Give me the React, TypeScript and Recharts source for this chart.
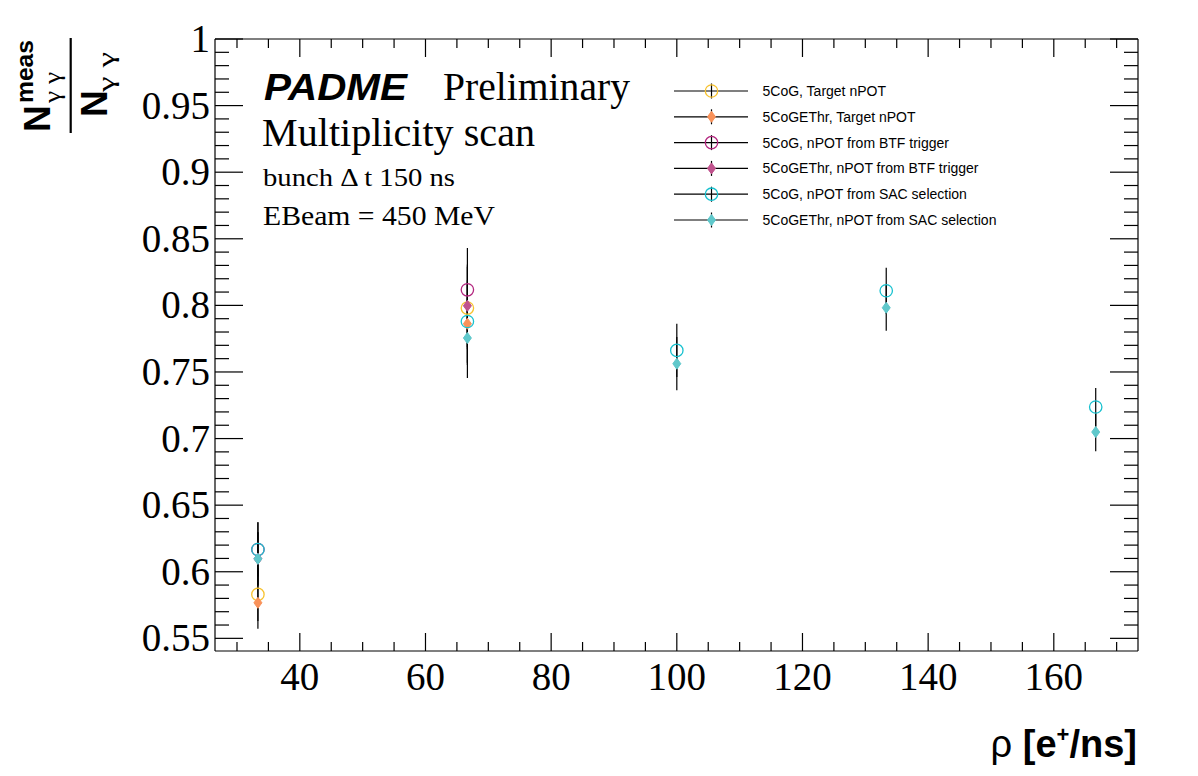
import React from 'react';
import { ScatterChart, Scatter, XAxis, YAxis, ErrorBar } from 'recharts';

// ---------- data ----------
const RHO = [33.33, 66.67, 100, 133.33, 166.67];

const TARGET_COG = [0.583, 0.798];
const TARGET_COG_ERR = [0.02, 0.031];
const TARGET_ETHR = [0.5767, 0.7862];
const TARGET_ETHR_ERR = [0.0195, 0.031];

const BTF_COG = [0.6167, 0.8117];
const BTF_COG_ERR = [0.0204, 0.0313];
const BTF_ETHR = [0.6097, 0.7997];
const BTF_ETHR_ERR = [0.02, 0.031];

const SAC_COG = [0.6167, 0.7879, 0.7662, 0.811, 0.7237];
const SAC_COG_ERR = [0.0204, 0.031, 0.02, 0.0172, 0.0143];
const SAC_ETHR = [0.6097, 0.7755, 0.7562, 0.7982, 0.7049];
const SAC_ETHR_ERR = [0.02, 0.03, 0.02, 0.0172, 0.0145];

const X_MAJOR = [40, 60, 80, 100, 120, 140, 160];
const X_LABELS = ['40', '60', '80', '100', '120', '140', '160'];
const X_MINOR = [30, 35, 45, 50, 55, 65, 70, 75, 85, 90, 95, 105, 110, 115, 125, 130, 135, 145, 150, 155, 165, 170];

const Y_MAJOR = [0.55, 0.6, 0.65, 0.7, 0.75, 0.8, 0.85, 0.9, 0.95, 1];
const Y_LABELS = ['0.55', '0.6', '0.65', '0.7', '0.75', '0.8', '0.85', '0.9', '0.95', '1'];
const Y_MINOR: number[] = [];
for (let i = 56; i < 100; i++) if (i % 5 !== 0) Y_MINOR.push(i / 100);

const LEGEND_NAMES = [
  '5CoG, Target nPOT',
  '5CoGEThr, Target nPOT',
  '5CoG, nPOT from BTF trigger',
  '5CoGEThr, nPOT from BTF trigger',
  '5CoG, nPOT from SAC selection',
  '5CoGEThr, nPOT from SAC selection',
];

// ---------- build ----------
const mk = (vals: number[], errs: number[]) => vals.map((v, i) => ({ x: RHO[i], y: v, err: errs[i] }));

const SERIES = [
  { name: LEGEND_NAMES[0], data: mk(TARGET_COG, TARGET_COG_ERR), color: '#F7C22E', filled: false },
  { name: LEGEND_NAMES[1], data: mk(TARGET_ETHR, TARGET_ETHR_ERR), color: '#F9925A', filled: true },
  { name: LEGEND_NAMES[2], data: mk(BTF_COG, BTF_COG_ERR), color: '#B3267F', filled: false },
  { name: LEGEND_NAMES[3], data: mk(BTF_ETHR, BTF_ETHR_ERR), color: '#C0528D', filled: true },
  { name: LEGEND_NAMES[4], data: mk(SAC_COG, SAC_COG_ERR), color: '#17C1CF', filled: false },
  { name: LEGEND_NAMES[5], data: mk(SAC_ETHR, SAC_ETHR_ERR), color: '#5FC8CB', filled: true },
];

const X_TICKS = [...X_MAJOR, ...X_MINOR].sort((a, b) => a - b);
const Y_TICKS = [...Y_MAJOR, ...Y_MINOR].sort((a, b) => a - b);

const SERIF = '"Liberation Serif", "Times New Roman", serif';
const SANS = '"Liberation Sans", Arial, sans-serif';

const isXMajor = (v: number) => X_MAJOR.indexOf(v) >= 0;
const yMajorIndex = (v: number) => Y_MAJOR.findIndex((m) => Math.abs(m - v) < 1e-6);

const Marker = ({ cx, cy, color, filled }: any) => {
  if (cx == null || cy == null) return <g />;
  if (filled) {
    return (
      <polygon
        points={`${cx},${cy - 5.5} ${cx + 4},${cy} ${cx},${cy + 5.5} ${cx - 4},${cy}`}
        fill={color}
        stroke={color}
        strokeWidth={1}
      />
    );
  }
  return <circle cx={cx} cy={cy} r={6.2} fill="none" stroke={color} strokeWidth={1.3} />;
};

const xTick = (side: 'bottom' | 'top') => (p: any) => {
  const { x, y, payload } = p;
  const v = payload.value;
  const major = isXMajor(v);
  const len = major ? 18 : 9;
  const dir = side === 'bottom' ? -1 : 1;
  const idx = X_MAJOR.indexOf(v);
  return (
    <g>
      <line x1={x} y1={y} x2={x} y2={y + dir * len} stroke="#000" strokeWidth={1.2} />
      {side === 'bottom' && major ? (
        <text x={x} y={y + 39} textAnchor="middle" fontFamily={SERIF} fontSize={39} fill="#000">
          {X_LABELS[idx]}
        </text>
      ) : null}
    </g>
  );
};

const yTick = (side: 'left' | 'right') => (p: any) => {
  const { x, y, payload } = p;
  const v = payload.value;
  const idx = yMajorIndex(v);
  const major = idx >= 0;
  const len = major ? 28 : 14;
  const dir = side === 'left' ? 1 : -1;
  return (
    <g>
      <line x1={x} y1={y} x2={x + dir * len} y2={y} stroke="#000" strokeWidth={1.2} />
      {side === 'left' && major ? (
        <text x={x - 5} y={y + 13} textAnchor="end" fontFamily={SERIF} fontSize={39} fill="#000">
          {Y_LABELS[idx]}
        </text>
      ) : null}
    </g>
  );
};

const X_DOMAIN: [number, number] = [26.5, 173.4];
const Y_DOMAIN: [number, number] = [0.5405, 1.0];

const LegendBox = () => (
  <g>
    {SERIES.map((s, i) => {
      const cy = 91 + i * 25.8;
      return (
        <g key={s.name}>
          <line x1={674} y1={cy} x2={748} y2={cy} stroke="#000" strokeWidth={1.2} />
          <line x1={711.5} y1={cy - 7.5} x2={711.5} y2={cy + 7.5} stroke="#000" strokeWidth={1.2} />
          <Marker cx={711.5} cy={cy} color={s.color} filled={s.filled} />
          <text x={762.5} y={cy + 5} fontFamily={SANS} fontSize={14} fill="#000">
            {s.name}
          </text>
        </g>
      );
    })}
  </g>
);

const axisLine = { stroke: '#000', strokeWidth: 1.2 };

export default function App() {
  return (
    <div style={{ position: 'absolute', left: 0, top: 0, width: 1198, height: 776, background: '#fff' }}>
      <ScatterChart width={1198} height={776} margin={{ top: 38, right: 59, bottom: 124, left: 214 }}>
        <XAxis
          xAxisId="b"
          type="number"
          dataKey="x"
          domain={X_DOMAIN}
          allowDataOverflow
          ticks={X_TICKS}
          interval={0}
          height={1}
          tickSize={0}
          tickMargin={0}
          tickLine={false}
          axisLine={axisLine}
          tick={xTick('bottom')}
        />
        <XAxis
          xAxisId="t"
          orientation="top"
          type="number"
          dataKey="x"
          domain={X_DOMAIN}
          allowDataOverflow
          ticks={X_TICKS}
          interval={0}
          height={1}
          tickSize={0}
          tickMargin={0}
          tickLine={false}
          axisLine={axisLine}
          tick={xTick('top')}
        />
        <YAxis
          yAxisId="l"
          type="number"
          dataKey="y"
          domain={Y_DOMAIN}
          allowDataOverflow
          ticks={Y_TICKS}
          interval={0}
          width={1}
          tickSize={0}
          tickMargin={0}
          tickLine={false}
          axisLine={axisLine}
          tick={yTick('left')}
        />
        <YAxis
          yAxisId="r"
          orientation="right"
          type="number"
          dataKey="y"
          domain={Y_DOMAIN}
          allowDataOverflow
          ticks={Y_TICKS}
          interval={0}
          width={1}
          tickSize={0}
          tickMargin={0}
          tickLine={false}
          axisLine={axisLine}
          tick={yTick('right')}
        />
        {SERIES.map((s) => (
          <Scatter
            key={s.name}
            name={s.name}
            data={s.data}
            xAxisId="b"
            yAxisId="l"
            isAnimationActive={false}
            shape={(p: any) => <Marker cx={p.cx} cy={p.cy} color={s.color} filled={s.filled} />}
          >
            <ErrorBar dataKey="err" direction="y" width={0} stroke="#000" strokeWidth={1.2} isAnimationActive={false} />
          </Scatter>
        ))}
      </ScatterChart>
      <svg
        width={1198}
        height={776}
        style={{ position: 'absolute', left: 0, top: 0, pointerEvents: 'none' }}
      >
        {/* annotations */}
        <text x={264} y={100} fontFamily={SANS} fontWeight="bold" fontStyle="italic" fontSize={36} textLength={143} lengthAdjust="spacingAndGlyphs">PADME</text>
        <text x={443} y={100} fontFamily={SERIF} fontSize={39} textLength={187} lengthAdjust="spacingAndGlyphs">Preliminary</text>
        <text x={262} y={146} fontFamily={SERIF} fontSize={39} textLength={273} lengthAdjust="spacingAndGlyphs">Multiplicity scan</text>
        <text x={263} y={186} fontFamily={SERIF} fontSize={26} textLength={192} lengthAdjust="spacingAndGlyphs">bunch Δ t 150 ns</text>
        <text x={263} y={225} fontFamily={SERIF} fontSize={27} textLength={232} lengthAdjust="spacingAndGlyphs">EBeam = 450 MeV</text>

        <LegendBox />

        {/* x-axis title */}
        <text x={1137} y={757} textAnchor="end" fontFamily={SANS} fontWeight="bold" fontSize={38}>
          <tspan fontWeight="normal">ρ</tspan> [e<tspan dy={-15} fontSize={22}>+</tspan><tspan dy={15}>/ns]</tspan>
        </text>

        {/* y-axis title */}
        <g transform="translate(70.7,133) rotate(-90)">
          <line x1={0} y1={0} x2={95} y2={0} stroke="#000" strokeWidth={2.2} />
          <text x={1} y={-20.5} fontFamily={SANS} fontWeight="bold" fontSize={37}>N</text>
          <text x={30} y={-37.5} fontFamily={SANS} fontWeight="bold" fontSize={24} textLength={63} lengthAdjust="spacingAndGlyphs">meas</text>
          <text x={30} y={-11} fontFamily={SERIF} fontSize={24} textLength={31} lengthAdjust="spacingAndGlyphs">γ γ</text>
          <text x={16} y={36.5} fontFamily={SANS} fontWeight="bold" fontSize={37}>N</text>
          <text x={41} y={43} fontFamily={SERIF} fontSize={24} textLength={40} lengthAdjust="spacingAndGlyphs">γ γ</text>
        </g>
      </svg>
    </div>
  );
}
